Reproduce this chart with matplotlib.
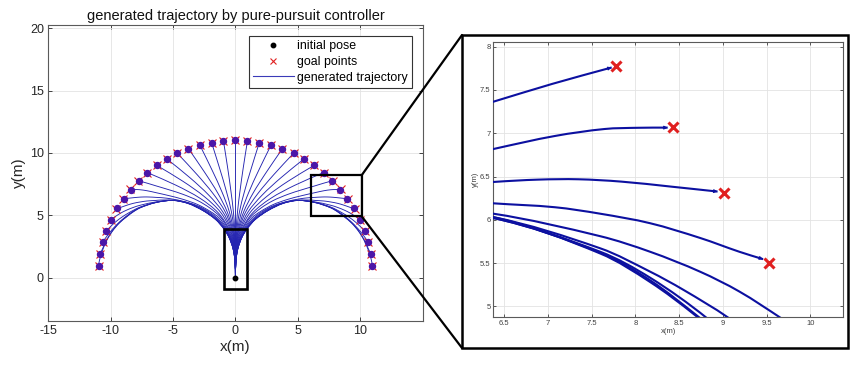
import numpy as np
import matplotlib
matplotlib.use("Agg")
import matplotlib.pyplot as plt
from matplotlib.path import Path
from matplotlib.patches import PathPatch, Rectangle, ConnectionPatch
from matplotlib.lines import Line2D

plt.rcParams['font.family'] = ['Liberation Sans', 'DejaVu Sans']

# ---------------- data ----------------
title = "generated trajectory by pure-pursuit controller"
legend_labels = ["initial pose", "goal points", "generated trajectory"]

initial_pose = (0.0, 0.0)

# goal points (5 deg .. 175 deg)
goal_x = [10.96, 10.83, 10.63, 10.34, 9.97, 9.53, 9.01, 8.43, 7.78, 7.07, 6.31, 5.50, 4.65, 3.76, 2.85, 1.91, 0.96,
          0.00,
          -0.96, -1.91, -2.85, -3.76, -4.65, -5.50, -6.31, -7.07, -7.78, -8.43, -9.01, -9.53, -9.97, -10.34, -10.63, -10.83, -10.96]
goal_y = [0.96, 1.91, 2.85, 3.76, 4.65, 5.50, 6.31, 7.07, 7.78, 8.43, 9.01, 9.53, 9.97, 10.34, 10.63, 10.83, 10.96,
          11.00,
          10.96, 10.83, 10.63, 10.34, 9.97, 9.53, 9.01, 8.43, 7.78, 7.07, 6.31, 5.50, 4.65, 3.76, 2.85, 1.91, 0.96]

# generated trajectories: waypoints (one list per goal)
traj_x = [
    [0, 0.033, 0.186, 0.502, 0.93, 1.6, 2.6, 3.8, 5.0, 6.38, 7.6, 8.17, 8.68, 9.3, 9.85, 10.3, 10.65, 10.88, 10.96],
    [0, 0.033, 0.186, 0.502, 0.93, 1.6, 2.6, 3.8, 5.0, 6.38, 7.6, 8.17, 8.72, 9.3, 9.85, 10.3, 10.62, 10.83],
    [0, 0.033, 0.184, 0.497, 0.92, 1.6, 2.6, 3.8, 5.0, 6.38, 7.6, 8.17, 8.81, 9.5, 10.1, 10.63],
    [0, 0.032, 0.18, 0.486, 0.90, 1.6, 2.6, 3.8, 5.0, 6.38, 7.6, 8.17, 8.55, 9.06, 9.65, 10.34],
    [0, 0.031, 0.174, 0.47, 0.87, 1.6, 2.6, 3.8, 5.0, 6.38, 7.6, 8.17, 8.74, 9.19, 9.67, 9.97],
    [0, 0.03, 0.164, 0.443, 0.82, 1.5, 2.6, 3.8, 5.0, 6.0, 6.38, 7.08, 7.6, 8.17, 8.74, 9.19, 9.46],
    [0, 0.027, 0.15, 0.405, 0.75, 1.3, 2.0, 3.0, 4.3, 5.5, 6.38, 6.89, 7.35, 7.84, 8.41, 8.94],
    [0, 0.024, 0.136, 0.367, 0.68, 1.3, 2.0, 3.0, 4.2, 5.3, 6.38, 7.08, 7.65, 8.03, 8.37],
    [0, 0.022, 0.12, 0.324, 0.6, 1.2, 2.0, 3.0, 4.2, 5.3, 6.38, 7.05, 7.73],
    [0, 0.019, 0.104, 0.281, 0.52, 1.39, 2.83, 4.76, 7.07],
    [0, 0.016, 0.088, 0.238, 0.44, 1.19, 2.48, 4.21, 6.31],
    [0, 0.013, 0.074, 0.2, 0.37, 1.01, 2.13, 3.64, 5.5],
    [0, 0.011, 0.06, 0.162, 0.30, 0.83, 1.77, 3.06, 4.65],
    [0, 0.009, 0.048, 0.13, 0.24, 0.67, 1.42, 2.47, 3.76],
    [0, 0.006, 0.036, 0.097, 0.18, 0.50, 1.07, 1.86, 2.85],
    [0, 0.004, 0.024, 0.065, 0.12, 0.33, 0.72, 1.25, 1.91],
    [0, 0.002, 0.012, 0.032, 0.06, 0.17, 0.36, 0.62, 0.96],
    [0, 0, 0],
    [0, -0.002, -0.012, -0.032, -0.06, -0.17, -0.36, -0.62, -0.96],
    [0, -0.004, -0.024, -0.065, -0.12, -0.33, -0.72, -1.25, -1.91],
    [0, -0.006, -0.036, -0.097, -0.18, -0.50, -1.07, -1.86, -2.85],
    [0, -0.009, -0.048, -0.13, -0.24, -0.67, -1.42, -2.47, -3.76],
    [0, -0.011, -0.06, -0.162, -0.30, -0.83, -1.77, -3.06, -4.65],
    [0, -0.013, -0.074, -0.2, -0.37, -1.01, -2.13, -3.64, -5.5],
    [0, -0.016, -0.088, -0.238, -0.44, -1.19, -2.48, -4.21, -6.31],
    [0, -0.019, -0.104, -0.281, -0.52, -1.39, -2.83, -4.76, -7.07],
    [0, -0.022, -0.12, -0.324, -0.6, -1.2, -2.0, -3.0, -4.2, -5.3, -6.38, -7.05, -7.73],
    [0, -0.024, -0.136, -0.367, -0.68, -1.3, -2.0, -3.0, -4.2, -5.3, -6.38, -7.08, -7.65, -8.03, -8.37],
    [0, -0.027, -0.15, -0.405, -0.75, -1.3, -2.0, -3.0, -4.3, -5.5, -6.38, -6.89, -7.35, -7.84, -8.41, -8.94],
    [0, -0.03, -0.164, -0.443, -0.82, -1.5, -2.6, -3.8, -5.0, -6.0, -6.38, -7.08, -7.6, -8.17, -8.74, -9.19, -9.46],
    [0, -0.031, -0.174, -0.47, -0.87, -1.6, -2.6, -3.8, -5.0, -6.38, -7.6, -8.17, -8.74, -9.19, -9.67, -9.97],
    [0, -0.032, -0.18, -0.486, -0.90, -1.6, -2.6, -3.8, -5.0, -6.38, -7.6, -8.17, -8.55, -9.06, -9.65, -10.34],
    [0, -0.033, -0.184, -0.497, -0.92, -1.6, -2.6, -3.8, -5.0, -6.38, -7.6, -8.17, -8.81, -9.5, -10.1, -10.63],
    [0, -0.033, -0.186, -0.502, -0.93, -1.6, -2.6, -3.8, -5.0, -6.38, -7.6, -8.17, -8.72, -9.3, -9.85, -10.3, -10.62, -10.83],
    [0, -0.033, -0.186, -0.502, -0.93, -1.6, -2.6, -3.8, -5.0, -6.38, -7.6, -8.17, -8.68, -9.3, -9.85, -10.3, -10.65, -10.88, -10.96],
]
traj_y = [
    [0, 1.3, 2.3, 3.2, 3.92, 4.68, 5.38, 5.95, 6.19, 6.03, 5.61, 5.28, 4.90, 4.37, 3.72, 2.98, 2.16, 1.40, 0.96],
    [0, 1.3, 2.3, 3.2, 3.92, 4.68, 5.38, 5.95, 6.19, 6.02, 5.62, 5.30, 4.88, 4.40, 3.76, 3.04, 2.35, 1.91],
    [0, 1.3, 2.3, 3.2, 3.92, 4.69, 5.39, 5.96, 6.19, 6.02, 5.63, 5.33, 4.87, 4.25, 3.57, 2.85],
    [0, 1.3, 2.3, 3.2, 3.92, 4.70, 5.40, 5.97, 6.20, 6.03, 5.67, 5.40, 5.19, 4.87, 4.42, 3.76],
    [0, 1.3, 2.3, 3.2, 3.92, 4.71, 5.42, 5.99, 6.21, 6.07, 5.81, 5.63, 5.40, 5.17, 4.86, 4.65],
    [0, 1.3, 2.3, 3.2, 3.92, 4.72, 5.50, 6.00, 6.20, 6.22, 6.19, 6.145, 6.07, 5.96, 5.79, 5.63, 5.545],
    [0, 1.3, 2.3, 3.2, 3.92, 4.62, 5.2, 5.75, 6.15, 6.37, 6.437, 6.464, 6.468, 6.441, 6.383, 6.326],
    [0, 1.3, 2.3, 3.2, 3.92, 4.78, 5.30, 5.85, 6.28, 6.57, 6.818, 6.968, 7.049, 7.063, 7.065],
    [0, 1.3, 2.3, 3.2, 3.92, 4.85, 5.55, 6.17, 6.68, 7.04, 7.365, 7.57, 7.76],
    [0, 1.3, 2.3, 3.2, 3.92, 5.21, 6.36, 7.41, 8.43],
    [0, 1.3, 2.3, 3.2, 3.92, 5.24, 6.49, 7.73, 9.01],
    [0, 1.3, 2.3, 3.2, 3.92, 5.27, 6.61, 8.01, 9.53],
    [0, 1.3, 2.3, 3.2, 3.92, 5.29, 6.71, 8.25, 9.97],
    [0, 1.3, 2.3, 3.2, 3.92, 5.30, 6.79, 8.45, 10.34],
    [0, 1.3, 2.3, 3.2, 3.92, 5.31, 6.85, 8.60, 10.63],
    [0, 1.3, 2.3, 3.2, 3.92, 5.32, 6.90, 8.71, 10.83],
    [0, 1.3, 2.3, 3.2, 3.92, 5.33, 6.92, 8.78, 10.96],
    [0, 3.92, 11.0],
    [0, 1.3, 2.3, 3.2, 3.92, 5.33, 6.92, 8.78, 10.96],
    [0, 1.3, 2.3, 3.2, 3.92, 5.32, 6.90, 8.71, 10.83],
    [0, 1.3, 2.3, 3.2, 3.92, 5.31, 6.85, 8.60, 10.63],
    [0, 1.3, 2.3, 3.2, 3.92, 5.30, 6.79, 8.45, 10.34],
    [0, 1.3, 2.3, 3.2, 3.92, 5.29, 6.71, 8.25, 9.97],
    [0, 1.3, 2.3, 3.2, 3.92, 5.27, 6.61, 8.01, 9.53],
    [0, 1.3, 2.3, 3.2, 3.92, 5.24, 6.49, 7.73, 9.01],
    [0, 1.3, 2.3, 3.2, 3.92, 5.21, 6.36, 7.41, 8.43],
    [0, 1.3, 2.3, 3.2, 3.92, 4.85, 5.55, 6.17, 6.68, 7.04, 7.365, 7.57, 7.76],
    [0, 1.3, 2.3, 3.2, 3.92, 4.78, 5.30, 5.85, 6.28, 6.57, 6.818, 6.968, 7.049, 7.063, 7.065],
    [0, 1.3, 2.3, 3.2, 3.92, 4.62, 5.2, 5.75, 6.15, 6.37, 6.437, 6.464, 6.468, 6.441, 6.383, 6.326],
    [0, 1.3, 2.3, 3.2, 3.92, 4.72, 5.50, 6.00, 6.20, 6.22, 6.19, 6.145, 6.07, 5.96, 5.79, 5.63, 5.545],
    [0, 1.3, 2.3, 3.2, 3.92, 4.71, 5.42, 5.99, 6.21, 6.07, 5.81, 5.63, 5.40, 5.17, 4.86, 4.65],
    [0, 1.3, 2.3, 3.2, 3.92, 4.70, 5.40, 5.97, 6.20, 6.03, 5.67, 5.40, 5.19, 4.87, 4.42, 3.76],
    [0, 1.3, 2.3, 3.2, 3.92, 4.69, 5.39, 5.96, 6.19, 6.02, 5.63, 5.33, 4.87, 4.25, 3.57, 2.85],
    [0, 1.3, 2.3, 3.2, 3.92, 4.68, 5.38, 5.95, 6.19, 6.02, 5.62, 5.30, 4.88, 4.40, 3.76, 3.04, 2.35, 1.91],
    [0, 1.3, 2.3, 3.2, 3.92, 4.68, 5.38, 5.95, 6.19, 6.03, 5.61, 5.28, 4.90, 4.37, 3.72, 2.98, 2.16, 1.40, 0.96],
]

vehicle_box = (-0.9, -0.9, 1.8, 4.82)       # x, y, width, height
zoom_box = (6.05, 4.92, 4.05, 3.29)         # region shown enlarged

main_xticks = [-15, -10, -5, 0, 5, 10]
main_yticks = [0, 5, 10, 15, 20]
inset_xticks = [6.5, 7, 7.5, 8, 8.5, 9, 9.5, 10]
inset_yticks = [5, 5.5, 6, 6.5, 7, 7.5, 8]


# ---------------- helpers ----------------
def smooth_path(xs, ys):
    p = np.column_stack([xs, ys]).astype(float)
    n = len(p)
    d = np.hypot(*np.diff(p, axis=0).T)
    T = np.zeros_like(p)
    T[0] = (p[1] - p[0]) / d[0]
    T[-1] = (p[-1] - p[-2]) / d[-1]
    for i in range(1, n - 1):
        T[i] = (p[i + 1] - p[i - 1]) / (d[i - 1] + d[i])
    verts = [p[0]]
    codes = [Path.MOVETO]
    for i in range(n - 1):
        verts += [p[i] + T[i] * d[i] / 3, p[i + 1] - T[i + 1] * d[i] / 3, p[i + 1]]
        codes += [Path.CURVE4] * 3
    return Path(verts, codes)


def style_axes(a, fs, col):
    a.tick_params(direction='in', top=True, right=True, labelsize=fs, colors=col,
                  length=3, width=0.6, pad=3)
    for s in a.spines.values():
        s.set_color('#5a5a5a')
        s.set_linewidth(0.8)
    a.grid(True, color='#e3e3e3', lw=0.6)
    a.set_axisbelow(True)


line_col = '#2424b0'
dot_col = '#4b16a8'
red = '#e02020'

fig = plt.figure(figsize=(8.5, 3.69), dpi=100)

# ---------------- main axes ----------------
ax = fig.add_axes([0.0565, 0.131, 0.441, 0.801])
style_axes(ax, 9, '#262626')
ax.set_xlim(-15, 15)
ax.set_ylim(-3.45, 20.25)
ax.set_xticks(main_xticks)
ax.set_yticks(main_yticks)
ax.set_xticklabels([str(v) for v in main_xticks])
ax.set_yticklabels([str(v) for v in main_yticks])

for xs, ys in zip(traj_x, traj_y):
    ax.add_patch(PathPatch(smooth_path(xs, ys), fill=False, ec=line_col, lw=0.65, zorder=3))

ax.plot(goal_x, goal_y, 'x', color=red, ms=6, mew=0.8, zorder=4, ls='none')
ax.plot([t[-1] for t in traj_x], [t[-1] for t in traj_y], 'o', color=dot_col, ms=4.3,
        ls='none', zorder=5)
ax.plot(*initial_pose, 'o', color='k', ms=3.2, zorder=6)

ax.add_patch(Rectangle(vehicle_box[:2], vehicle_box[2], vehicle_box[3], fill=False,
                       ec='k', lw=1.9, zorder=6))
ax.add_patch(Rectangle(zoom_box[:2], zoom_box[2], zoom_box[3], fill=False,
                       ec='k', lw=1.6, zorder=6))

ax.set_title(title, fontsize=10.5, pad=4, color='#111111')
ax.set_xlabel('x(m)', fontsize=11, labelpad=2, color='#262626')
ax.set_ylabel('y(m)', fontsize=11, labelpad=3, color='#262626')

handles = [Line2D([], [], marker='o', color='k', ls='none', ms=3.2),
           Line2D([], [], marker='x', color=red, ls='none', ms=5, mew=0.8),
           Line2D([], [], color='#3a3ab8', lw=0.8)]
leg = ax.legend(handles, legend_labels, loc='upper right', bbox_to_anchor=(0.971, 0.963),
                borderaxespad=0, fontsize=8.9, frameon=True, fancybox=False,
                edgecolor='#333333', framealpha=1, handlelength=3.3, handletextpad=0.25,
                labelspacing=0.3, borderpad=0.35)
leg.get_frame().set_linewidth(0.8)

# ---------------- inset axes ----------------
axi = fig.add_axes([0.5804, 0.1401, 0.4118, 0.7453])
style_axes(axi, 5.5, '#404040')
axi.tick_params(pad=2, length=2)
axi.set_xlim(6.378, 10.377)
axi.set_ylim(4.873, 8.051)
axi.set_xticks(inset_xticks)
axi.set_yticks(inset_yticks)
axi.set_xticklabels(['%g' % v for v in inset_xticks])
axi.set_yticklabels(['%g' % v for v in inset_yticks])
axi.set_xlabel('x(m)', fontsize=5.5, labelpad=1, color='#404040')
axi.set_ylabel('y(m)', fontsize=5.5, labelpad=1, color='#404040')

for xs, ys in zip(traj_x, traj_y):
    axi.add_patch(PathPatch(smooth_path(xs, ys), fill=False, ec='#0c10a0', lw=1.5, zorder=3))
    end = np.array([xs[-1], ys[-1]], float)
    prev = np.array([xs[-2], ys[-2]], float)
    u = (end - prev) / np.hypot(*(end - prev))
    axi.annotate('', xy=end, xytext=end - 0.06 * u,
                 arrowprops=dict(arrowstyle='-|>', color='#0c10a0', lw=0.8,
                                 mutation_scale=5, shrinkA=0, shrinkB=0))
axi.plot(goal_x, goal_y, 'x', color=red, ms=7, mew=2.2, ls='none', zorder=5)

# ---------------- frame and connectors ----------------
fx0, fy0, fx1, fy1 = 462 / 850, 1 - 348 / 369, 848 / 850, 1 - 35 / 369
fig.add_artist(Rectangle((fx0, fy0), fx1 - fx0, fy1 - fy0, transform=fig.transFigure,
                         fill=False, ec='k', lw=1.8))
for yy, fy in [(zoom_box[1] + zoom_box[3], fy1), (zoom_box[1], fy0)]:
    cp = ConnectionPatch(xyA=(zoom_box[0] + zoom_box[2], yy), coordsA=ax.transData,
                         xyB=(fx0, fy), coordsB=fig.transFigure, color='k', lw=1.6)
    fig.add_artist(cp)

fig.savefig('out.png', dpi=100)
